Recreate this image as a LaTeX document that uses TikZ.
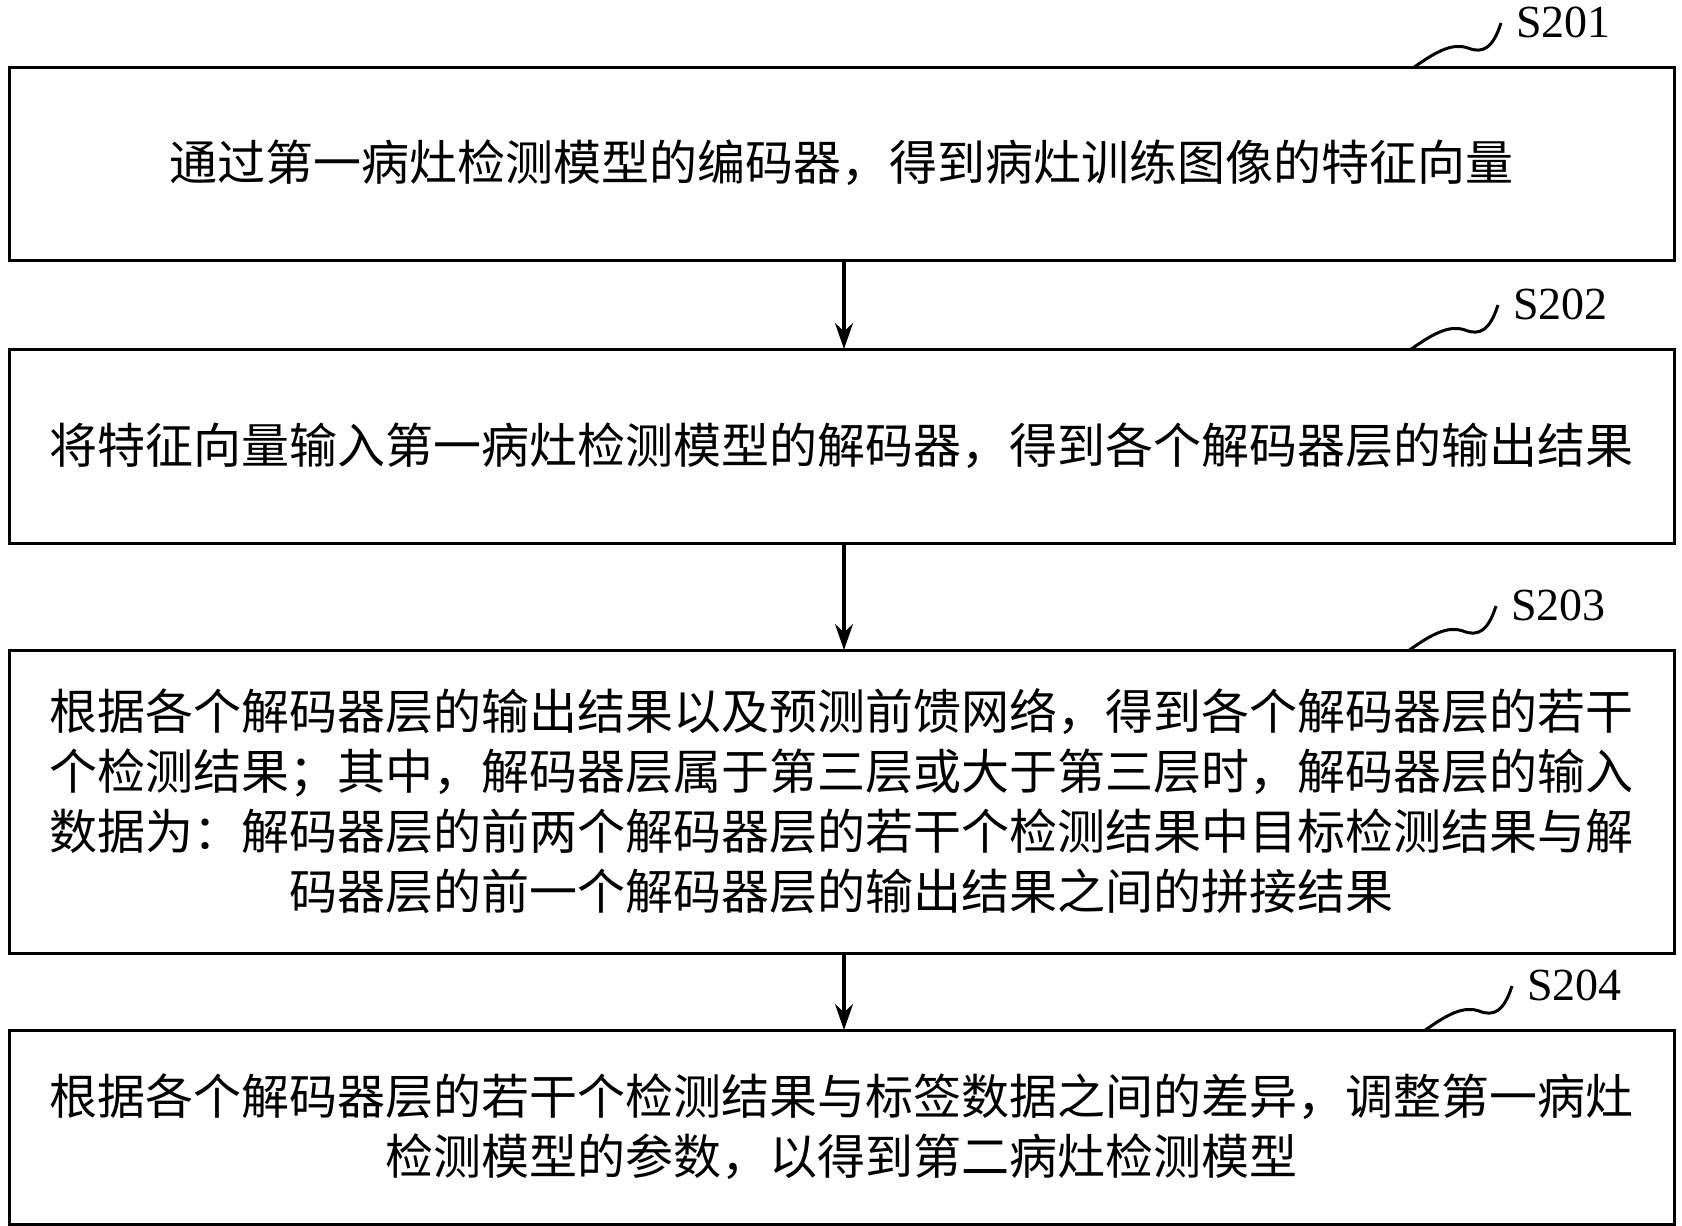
\documentclass[tikz,border=0pt]{standalone}
\usepackage{fontspec}
\setmainfont{Liberation Serif}
\newfontfamily\cjk{Noto Sans CJK SC}
\usetikzlibrary{arrows.meta}
\begin{document}
\begin{tikzpicture}[x=0.5pt,y=-0.5pt,
  box/.style={draw,line width=1.5pt,inner sep=0pt},
  txt/.style={font=\cjk\fontsize{24}{30}\selectfont,align=center},
  arr/.style={-{Stealth[length=13pt,width=9pt]},line width=1.6pt},
  sq/.style={line width=1.5pt},
  lab/.style={font=\fontsize{23}{26}\selectfont,anchor=west}]
\useasboundingbox (0,0) rectangle (1682,1226);
\draw[box] (9,67) rectangle (1674,260);
\node[txt] (t1) at (841.5,163) {通过第一病灶检测模型的编码器，得到病灶训练图像的特征向量};
\draw[box] (9,349) rectangle (1674,543);
\node[txt] (t2) at (841.5,446) {将特征向量输入第一病灶检测模型的解码器，得到各个解码器层的输出结果};
\draw[box] (9,650) rectangle (1674,953);
\node[txt] (t3) at (841.5,801) {根据各个解码器层的输出结果以及预测前馈网络，得到各个解码器层的若干\\个检测结果；其中，解码器层属于第三层或大于第三层时，解码器层的输入\\数据为：解码器层的前两个解码器层的若干个检测结果中目标检测结果与解\\码器层的前一个解码器层的输出结果之间的拼接结果};
\draw[box] (9,1030) rectangle (1674,1224);
\node[txt] (t4) at (841.5,1127) {根据各个解码器层的若干个检测结果与标签数据之间的差异，调整第一病灶\\检测模型的参数，以得到第二病灶检测模型};
\coordinate (b1) at (844,260); \coordinate (a2) at (844,349);
\coordinate (b2) at (844,543); \coordinate (a3) at (844,650);
\coordinate (b3) at (844,953); \coordinate (a4) at (844,1030);
\draw[arr] (b1) -- (a2);
\draw[arr] (b2) -- (a3);
\draw[arr] (b3) -- (a4);
\foreach \n/\x/\y in {S201/1413/68, S202/1410/350, S203/1408/651, S204/1424/1031}{
  \draw[sq] (\x,\y) .. controls (\x+25,\y-18) and (\x+40,\y-25) .. (\x+55,\y-20)
    .. controls (\x+70,\y-14) and (\x+80,\y-20) .. (\x+88,\y-45);
  \node[lab] at (\x+96,\y-46) {\n};
}
\end{tikzpicture}
\end{document}
